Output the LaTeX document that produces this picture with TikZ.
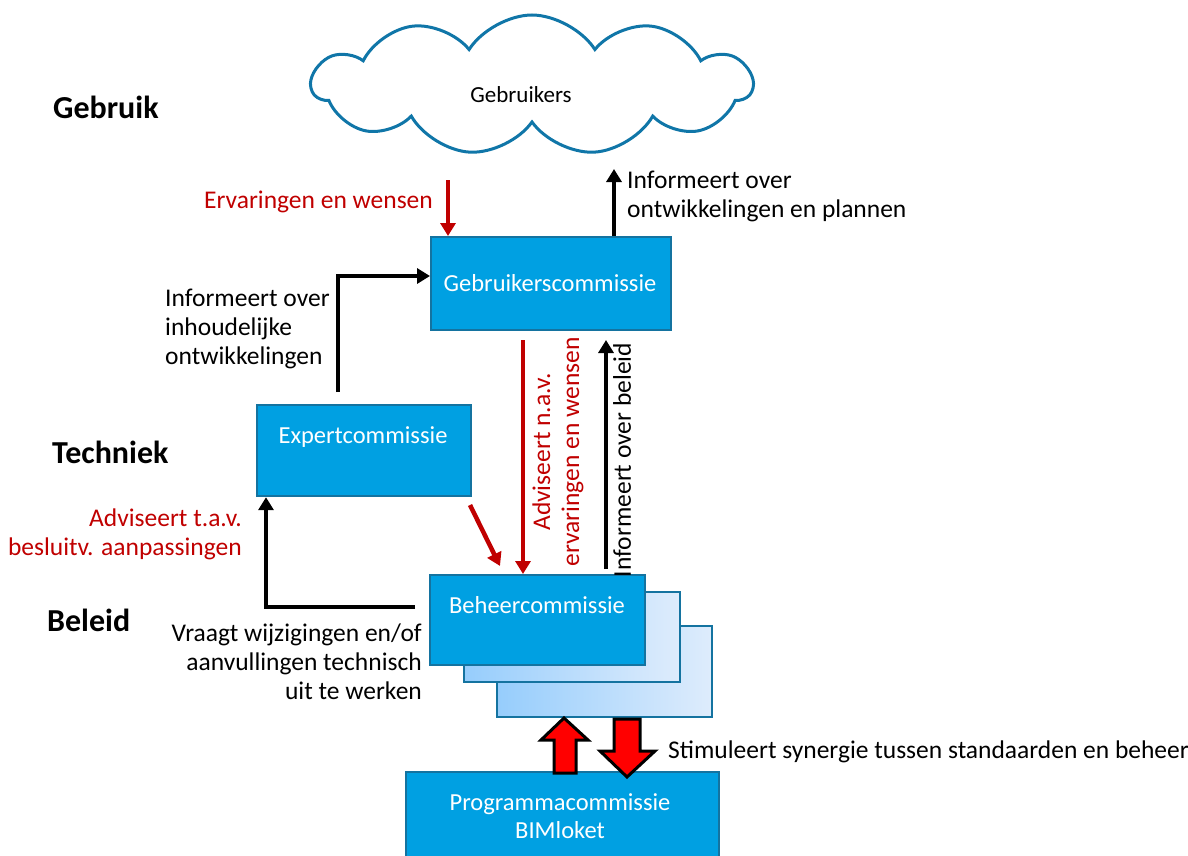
\documentclass[tikz,border=0pt]{standalone}
\usepackage{fontspec}
\setmainfont{Carlito}
\usetikzlibrary{arrows.meta,shapes.symbols,calc}
\definecolor{boxblue}{RGB}{0,160,226}
\definecolor{boxline}{RGB}{20,115,160}
\definecolor{cloudline}{RGB}{16,118,168}
\definecolor{darkred}{RGB}{192,0,0}
\definecolor{gradL}{RGB}{150,205,252}
\definecolor{gradR}{RGB}{222,236,252}
\tikzset{
  mainbox/.style={draw=boxline,line width=2.2pt,fill=boxblue,minimum width=#1,anchor=north west,inner sep=0pt},
  backbox/.style={draw=boxline,line width=2.2pt,left color=gradL,right color=gradR,anchor=north west,inner sep=0pt},
  boxtext/.style={text=white,font=\fontsize{24.5}{28}\selectfont,align=center,inner sep=0pt},
  lbl/.style={font=\fontsize{25.5}{29}\selectfont,inner sep=0pt},
  head/.style={font=\bfseries\fontsize{32}{34}\selectfont,inner sep=0pt,anchor=west},
  blk/.style={line width=4.5pt,-{Triangle[length=13pt,width=15pt]}},
  rdk/.style={line width=4.5pt,draw=darkred,-{Triangle[length=13pt,width=15pt]}},
  blockarrow/.style={fill=red,draw=black,line width=3pt,line join=miter}
}
\begin{document}
\begin{tikzpicture}[x=1pt,y=-1pt]
\useasboundingbox (0,0) rectangle (1188,856);
% cloud
\node[cloud,cloud puffs=11,cloud puff arc=115,aspect=3.2,draw=cloudline,line width=3pt,fill=white,minimum width=440pt,minimum height=140pt] (cloud) at (532,85) {};
\node[font=\fontsize{23}{26}\selectfont,inner sep=0pt] (cloudtxt) at (521,95) {Gebruikers};
% headings
\node[head] (hg) at (53,107) {Gebruik};
\node[head] (ht) at (52,452) {Techniek};
\node[head] (hb) at (47,620) {Beleid};
% boxes
\node[mainbox=240pt,minimum height=93pt] (gc) at (430,236) {};
\node[boxtext] (gct) at (550,283) {Gebruikerscommissie};
\node[mainbox=214pt,minimum height=91pt] (ec) at (256,404) {};
\node[boxtext] (ect) at (363,437) {Expertcommissie};
\node[backbox,minimum width=215pt,minimum height=91pt] (bb2) at (496,625) {};
\node[backbox,minimum width=216pt,minimum height=90pt] (bb1) at (463,591) {};
\node[mainbox=215pt,minimum height=90pt] (bc) at (429,574) {};
\node[boxtext] (bct) at (537,605) {Beheercommissie};
\node[mainbox=313pt,minimum height=100pt] (pc) at (405,771) {};
\node[boxtext] (pct) at (560,816) {Programmacommissie\\BIMloket};
% arrows top
\coordinate (e1) at (448,180);
\draw[rdk] (e1) -- (e1 |- gc.north);
\node[lbl,text=darkred,anchor=east] (l1) at (433,202) {Ervaringen en wensen};
\coordinate (i1) at (614,169);
\draw[blk] (i1 |- gc.north) -- (i1);
\node[lbl,anchor=west,align=left] (l2) at (627,196) {Informeert over\\ontwikkelingen en plannen};
% elbow expert -> gebruikerscommissie
\coordinate (x1) at (338,392);
\coordinate (x2) at (338,276);
\draw[blk,line join=miter] (x1) -- (x2) -- (x2 -| gc.west);
\node[lbl,anchor=west,align=left] (l3) at (165,329) {Informeert over\\inhoudelijke\\ontwikkelingen};
% expert -> beheer diagonal
\coordinate (d1) at (470,505);
\draw[rdk] (d1) -- (500,566);
% vertical between gc and bc
\coordinate (v1) at (523,340);
\draw[rdk] (v1) -- (v1 |- bc.north);
\node[lbl,text=darkred,rotate=90,align=center] (l4) at (558,452) {Adviseert n.a.v.\\ervaringen en wensen};
\coordinate (v2) at (606,569);
\draw[blk] (v2) -- (606,340);
\node[lbl,rotate=90] (l5) at (622,460) {Informeert over beleid};
% elbow beheer -> expert
\coordinate (b1) at (415,607);
\coordinate (b2) at (266,607);
\draw[blk,line join=miter] (b1) -- (b2) -- (b2 |- ec.south);
\node[lbl,text=darkred,anchor=east,align=right] (l6) at (242,534) {Adviseert t.a.v.\\besluitv. aanpassingen};
\node[lbl,anchor=east,align=right] (l7) at (422,662) {Vraagt wijzigingen en/of\\aanvullingen technisch\\uit te werken};
% block arrows
\draw[blockarrow] (554,773) -- (554,740) -- (541,740) -- (564,718) -- (588,740) -- (576,740) -- (576,773) -- cycle;
\draw[blockarrow] (614,719) -- (640,719) -- (640,751) -- (655,751) -- (627,777) -- (600,751) -- (614,751) -- cycle;
\node[lbl,anchor=west] (l8) at (668,752) {Stimuleert synergie tussen standaarden en beheer};
\end{tikzpicture}
\end{document}
